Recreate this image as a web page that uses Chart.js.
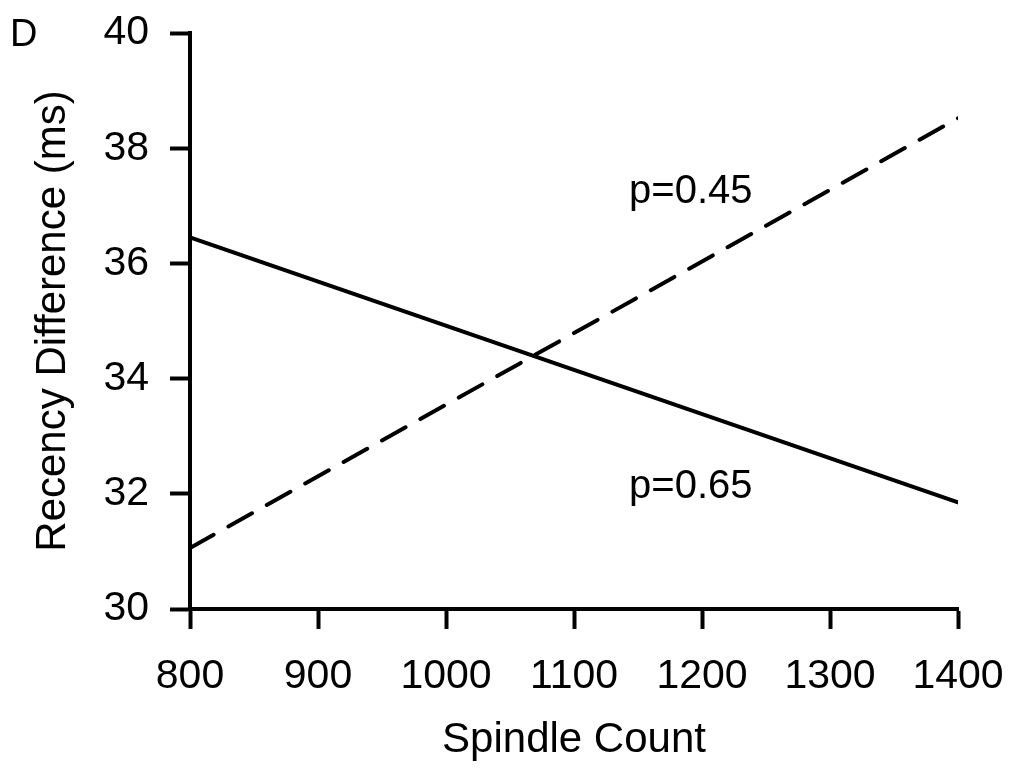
<!DOCTYPE html>
<html>
<head>
<meta charset="utf-8">
<script src="https://cdn.jsdelivr.net/npm/chart.js@4/dist/chart.umd.min.js"></script>
<style>
  html, body { margin: 0; padding: 0; background: #fff; }
  #wrap { width: 1012px; height: 768px; }
</style>
</head>
<body>
<div id="wrap"><canvas id="c" width="1012" height="768"></canvas></div>
<script>
// data
const spindleCount = [800, 1400];
const solidLine = [36.45, 31.85];   // p=0.65
const dashedLine = [31.06, 38.52];  // p=0.45
const xTicks = [800, 900, 1000, 1100, 1200, 1300, 1400];
const yTicks = [30, 32, 34, 36, 38, 40];
const labels = ["p=0.45", "p=0.65"];
const labelAt = [[1143, 37.05], [1143, 31.93]];

const FONT = "'Liberation Sans', Arial, Helvetica, sans-serif";

const annot = {
  id: "annot",
  afterDraw(chart) {
    const c = chart.ctx, x = chart.scales.x, y = chart.scales.y;
    c.save();
    c.fillStyle = "#000";
    c.textBaseline = "alphabetic";
    c.textAlign = "left";
    c.font = "40px " + FONT;
    labels.forEach((t, i) => {
      c.fillText(t, x.getPixelForValue(labelAt[i][0]), y.getPixelForValue(labelAt[i][1]));
    });
    // panel letter
    c.font = "38px " + FONT;
    c.fillText("D", 10, 46);
    c.restore();
  },
};

const pts = (ys) => spindleCount.map((v, i) => ({ x: v, y: ys[i] }));

new Chart(document.getElementById("c").getContext("2d"), {
  type: "line",
  data: {
    datasets: [
      { data: pts(solidLine), borderColor: "#000", borderWidth: 4, pointRadius: 0, borderCapStyle: "round" },
      { data: pts(dashedLine), borderColor: "#000", borderWidth: 4, pointRadius: 0, borderCapStyle: "round", borderDash: [27, 17] },
    ],
  },
  options: {
    responsive: false,
    animation: false,
    layout: { padding: { top: 33, right: 54, left: 0, bottom: 0 } },
    plugins: { legend: { display: false }, tooltip: { enabled: false } },
    scales: {
      x: {
        type: "linear",
        min: 800,
        max: 1400,
        afterBuildTicks: (s) => { s.ticks = xTicks.map((v) => ({ value: v })); },
        afterFit: (s) => { s.height = 159; s.paddingLeft = 0; s.paddingRight = 0; },
        grid: { drawOnChartArea: false, tickLength: 20, tickWidth: 4, tickColor: "#000" },
        border: { display: true, color: "#000", width: 4 },
        ticks: { color: "#000", padding: 23, maxRotation: 0, callback: (v) => String(v), font: { family: FONT, size: 41 } },
        title: { display: true, text: "Spindle Count", color: "#000", font: { family: FONT, size: 42 }, padding: { top: 0, bottom: 2 } },
      },
      y: {
        min: 30,
        max: 40,
        afterBuildTicks: (s) => { s.ticks = yTicks.map((v) => ({ value: v })); },
        afterFit: (s) => { s.width = 190; s.paddingTop = 0; s.paddingBottom = 0; },
        grid: { drawOnChartArea: false, tickLength: 20, tickWidth: 4, tickColor: "#000" },
        border: { display: true, color: "#000", width: 4 },
        ticks: { color: "#000", padding: 21, callback: (v) => String(v), font: { family: FONT, size: 41 } },
        title: { display: true, text: "Recency Difference (ms)", color: "#000", font: { family: FONT, size: 42 }, padding: { top: 28, bottom: 0 } },
      },
    },
  },
  plugins: [annot],
});
</script>
</body>
</html>
